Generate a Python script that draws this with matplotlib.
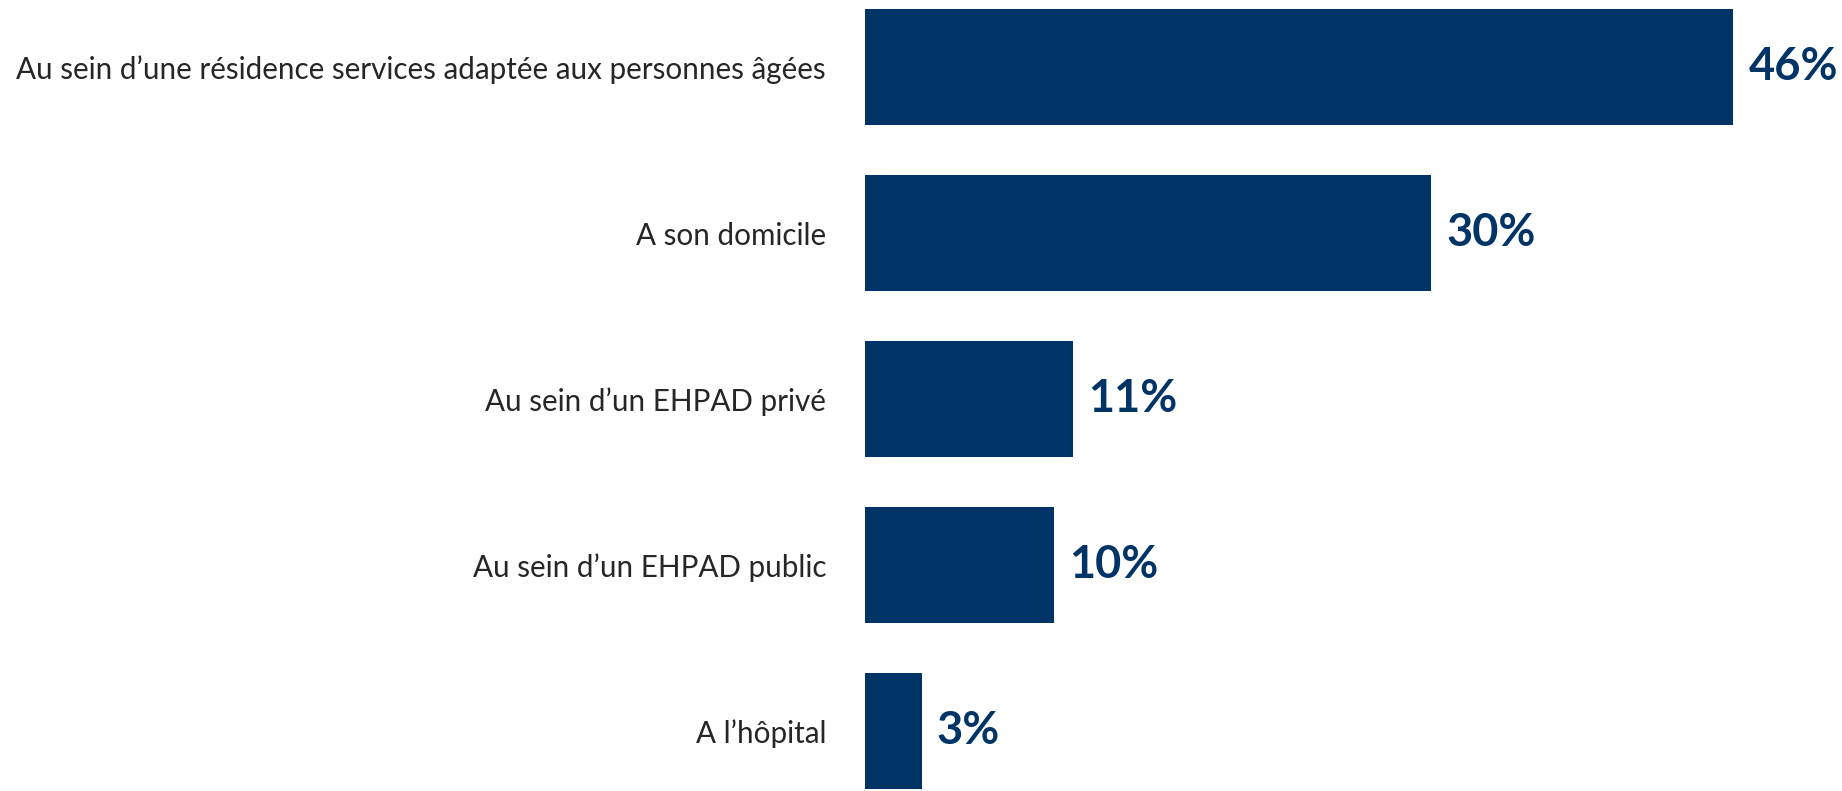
import matplotlib
matplotlib.use("Agg")
import matplotlib.pyplot as plt

categories = [
    "Au sein d\u2019une r\u00e9sidence services adapt\u00e9e aux personnes \u00e2g\u00e9es",
    "A son domicile",
    "Au sein d\u2019un EHPAD priv\u00e9",
    "Au sein d\u2019un EHPAD public",
    "A l\u2019h\u00f4pital",
]
values = [46, 30, 11, 10, 3]
value_labels = ["46%", "30%", "11%", "10%", "3%"]

BAR = "#003366"
TXT = "#262626"

fig = plt.figure(figsize=(18.42, 7.91), dpi=100)
left = 865 / 1842
ax = fig.add_axes([left, 0, 1 - left, 1])
y = list(range(len(categories)))
ax.barh(y, values, height=0.70, color=BAR)
ax.set_xlim(0, (1842 - 865) / 18.88)
ax.set_ylim(4.361, -0.404)
ax.set_yticks(y)
ax.set_yticklabels(categories, fontsize=21.3, color=TXT, family="Lato")
ax.tick_params(axis="y", length=0, pad=28)
ax.set_xticks([])
for s in ax.spines.values():
    s.set_visible(False)
for yi, v, lab in zip(y, values, value_labels):
    ax.text(v + 0.8, yi, lab, va="center", ha="left", fontsize=32.5,
            fontweight="bold", color=BAR, family="Lato")

fig.savefig("out.png", dpi=100)
